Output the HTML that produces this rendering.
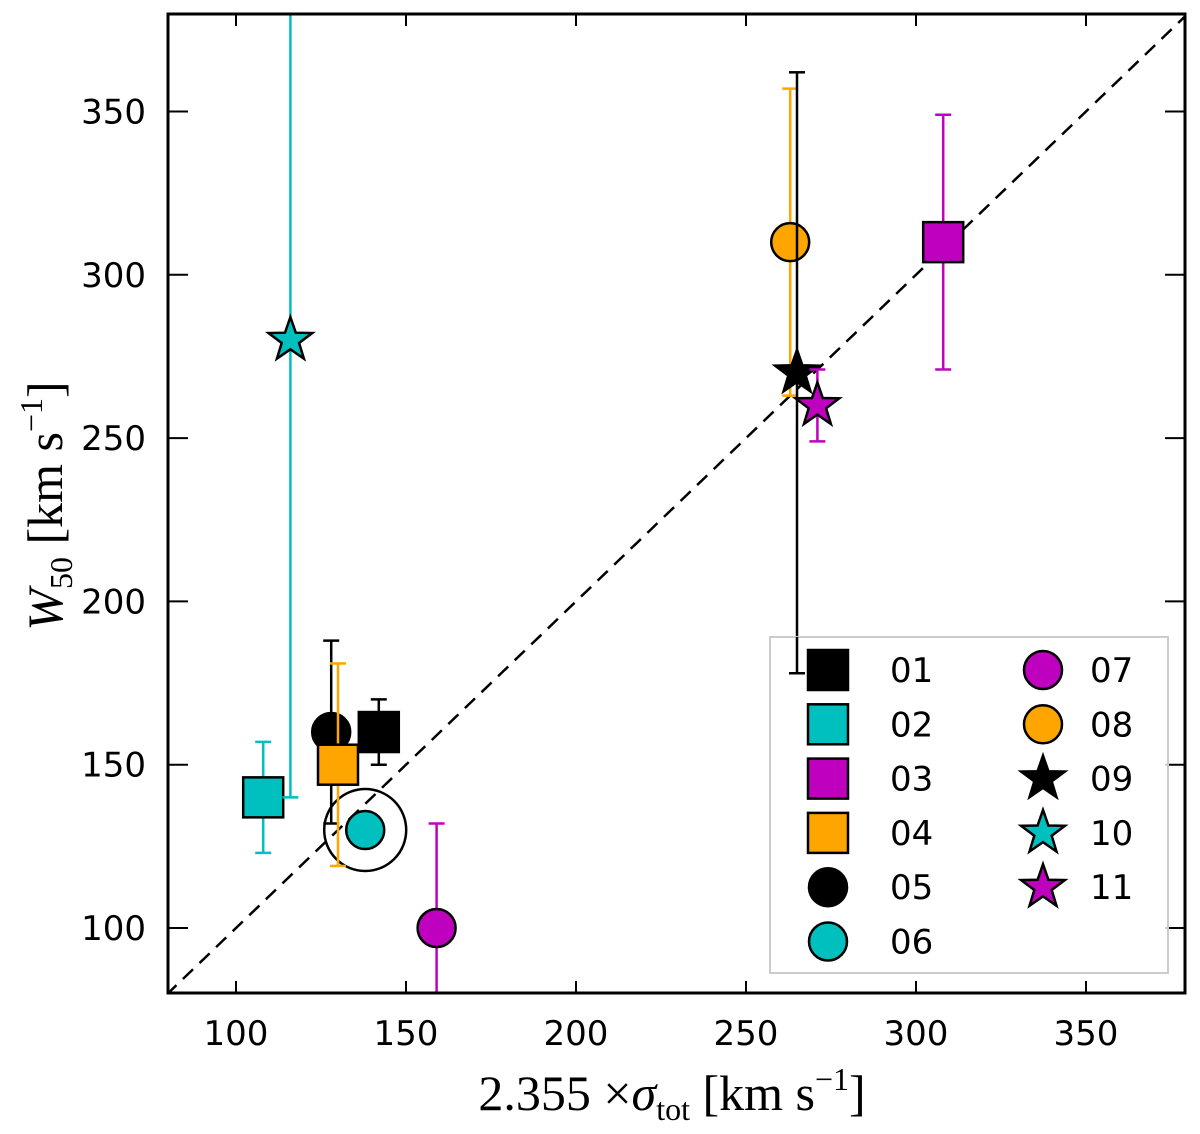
<!DOCTYPE html>
<html><head><meta charset="utf-8"><style>
body{margin:0;background:#fff;}
svg text{font-family:"DejaVu Sans","Liberation Sans",sans-serif;}
.ser{font-family:"Liberation Serif",serif;}
</style></head><body>
<svg id="chart" width="1200" height="1129" xmlns="http://www.w3.org/2000/svg">
<defs><clipPath id="clip"><rect x="168" y="14" width="1017" height="979"/></clipPath></defs>
<g id="plot" clip-path="url(#clip)"></g>
<rect x="168" y="14" width="1017" height="979" fill="none" stroke="#000" stroke-width="3"/>
<g id="ticks"></g>
<text class="ser" transform="translate(62,506) rotate(-90)" text-anchor="middle" font-size="50"><tspan font-style="italic">W</tspan><tspan font-size="32" dy="10">50</tspan><tspan dy="-10"> [km s</tspan><tspan font-size="32" dy="-20">−1</tspan><tspan dy="20">]</tspan></text>
<text class="ser" x="672" y="1110" text-anchor="middle" font-size="50">2.355 ×<tspan font-style="italic">σ</tspan><tspan font-size="32" dy="10">tot</tspan><tspan dy="-10"> [km s</tspan><tspan font-size="32" dy="-20">−1</tspan><tspan dy="20">]</tspan></text>
<g id="legend"></g>
<g id="over"></g>
</svg>
<script>
const labels=["01","02","03","04","05","06","07","08","09","10","11"];
const xs=[142,108,308,130,128,138,159,263,265,116,271];
const ys=[160,140,310,150,160,130,100,310,270,280,260];
const errLo=[150,123,271,119,132,130,80,263,178,140,249];
const errHi=[170,157,349,181,188,130,132,357,362,400,271];
const colors=["#000","#00bfbf","#bf00bf","#ffa500","#000","#00bfbf","#bf00bf","#ffa500","#000","#00bfbf","#bf00bf"];
const shapes=["s","s","s","s","o","o","o","o","*","*","*"];
const xTicks=[100,150,200,250,300,350];
const yTicks=[100,150,200,250,300,350];
const NS="http://www.w3.org/2000/svg";
const X=v=>236+(v-100)*3.4;
const Y=v=>928-(v-100)*3.266;
function mk(tag,attrs,parent){const e=document.createElementNS(NS,tag);for(const k in attrs)e.setAttribute(k,attrs[k]);parent.appendChild(e);return e;}
function starPts(cx,cy,R){let p=[];for(let i=0;i<10;i++){const r=i%2?R*0.4:R;const a=-Math.PI/2+i*Math.PI/5;p.push((cx+r*Math.cos(a)).toFixed(1)+","+(cy+r*Math.sin(a)).toFixed(1));}return p.join(" ");}
function marker(shape,cx,cy,color,parent){
 if(shape==="s")return mk("rect",{x:cx-20,y:cy-20,width:40,height:40,fill:color,stroke:"#000","stroke-width":2.5},parent);
 if(shape==="o")return mk("circle",{cx:cx,cy:cy,r:19,fill:color,stroke:"#000","stroke-width":2.5},parent);
 return mk("polygon",{points:starPts(cx,cy,23),fill:color,stroke:"#000","stroke-width":2.5},parent);
}
const plot=document.getElementById("plot");
const diag=mk("line",{x1:X(60),y1:Y(60),x2:X(400),y2:Y(400),stroke:"#000","stroke-width":2.5,"stroke-dasharray":"14,9"},plot);


const ring=mk("circle",{cx:X(xs[5]),cy:Y(ys[5]),r:41,fill:"none",stroke:"#000","stroke-width":2.5},plot);


const order=[4,5,6,7,0,1,2,3,8,9,10];
for(const i of order){
 const g=mk("g",{},plot);
 
 
 if(errHi[i]>errLo[i]){
  const x=X(xs[i]);
  mk("line",{x1:x,x2:x,y1:Y(errLo[i]),y2:Y(errHi[i]),stroke:colors[i],"stroke-width":2.5},g);
  mk("line",{x1:x-8,x2:x+8,y1:Y(errLo[i]),y2:Y(errLo[i]),stroke:colors[i],"stroke-width":2.5},g);
  mk("line",{x1:x-8,x2:x+8,y1:Y(errHi[i]),y2:Y(errHi[i]),stroke:colors[i],"stroke-width":2.5},g);
 }
 marker(shapes[i],X(xs[i]),Y(ys[i]),colors[i],g);
}
const tk=document.getElementById("ticks");
xTicks.forEach(v=>{
 const x=X(v);
 mk("line",{x1:x,x2:x,y1:993,y2:981,stroke:"#000","stroke-width":2},tk);
 mk("line",{x1:x,x2:x,y1:14,y2:26,stroke:"#000","stroke-width":2},tk);
 const t=mk("text",{x:x,y:1045,"text-anchor":"middle","font-size":34},tk);t.textContent=v;
 
 
});
yTicks.forEach(v=>{
 const y=Y(v);
 mk("line",{x1:168,x2:188,y1:y,y2:y,stroke:"#000","stroke-width":2},tk);
 mk("line",{x1:1185,x2:1165,y1:y,y2:y,stroke:"#000","stroke-width":2},tk);
 const t=mk("text",{x:146,y:y+12,"text-anchor":"end","font-size":34},tk);t.textContent=v;
 
 
});
const lg=document.getElementById("legend");


mk("rect",{x:770,y:637,width:398,height:336,fill:"#fff","fill-opacity":0.8,stroke:"#ccc","stroke-width":2},lg);
labels.forEach((l,i)=>{
 const col=i<6?0:1,row=i<6?i:i-6;
 const g=mk("g",{},lg);
 
 
 const mx=col?1043:828,my=670+row*54.3;
 marker(shapes[i],mx,my,colors[i],g);
 const t=mk("text",{x:col?1090:890,y:my+12,"font-size":34},g);t.textContent=l;
});
// error bar of point 09 shows through legend
const ov=document.getElementById("over");
const ex=X(xs[8]);
const el=mk("line",{x1:ex,x2:ex,y1:Y(errLo[8]),y2:637,stroke:"#000","stroke-width":2.5},ov);


mk("line",{x1:ex-8,x2:ex+8,y1:Y(errLo[8]),y2:Y(errLo[8]),stroke:"#000","stroke-width":2.5},ov);
</script>
</body></html>
